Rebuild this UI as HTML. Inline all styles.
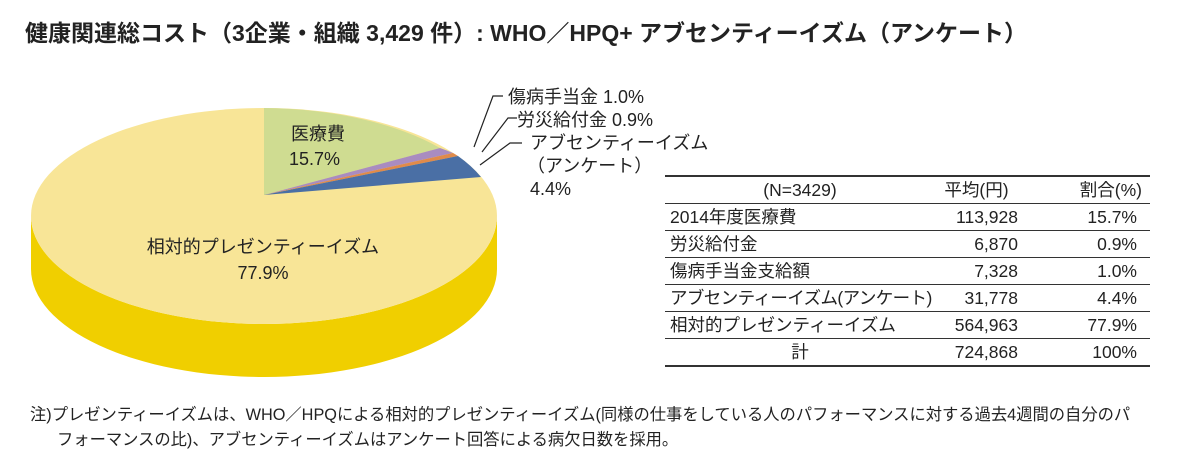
<!DOCTYPE html>
<html><head><meta charset="utf-8"><style>
body{margin:0;width:1183px;height:466px;background:#fff;font-family:"Liberation Sans","Noto Sans CJK JP",sans-serif;color:#222;position:relative;overflow:hidden}
.t{position:absolute;white-space:nowrap}
table{position:absolute;left:665px;top:175px;width:485px;border-collapse:collapse;font-size:17.5px;table-layout:fixed}
td{height:26px;padding:0;border-bottom:1px solid #333;line-height:24px;white-space:nowrap;overflow:visible}
tr:first-child td{border-top:2px solid #333}
tr:last-child td{border-bottom:2px solid #333}
</style></head><body>
<div class="t" style="left:25px;top:14px;font-size:23px;font-weight:bold">健康関連総コスト（3企業・組織 3,429 件）: WHO／HPQ+ アブセンティーイズム（アンケート）</div>
<svg width="1183" height="466" style="position:absolute;left:0;top:0">
<path d="M31,216 A233,108 0 0 0 497,216 L497,269 A233,108 0 0 1 31,269 Z" fill="#f0cf00"/>
<ellipse cx="264" cy="216" rx="233" ry="108" fill="#f8e597"/>
<path d="M264,195 L264,108 A233,108 0 0 1 440,148 Z" fill="#cfdc91"/>
<path d="M264,195 L440,148 A233,108 0 0 1 453,153 Z" fill="#a98cc0"/>
<path d="M264,195 L453,153 A233,108 0 0 1 458,156 Z" fill="#e08a4a"/>
<path d="M264,195 L458,156 A233,108 0 0 1 481,177 Z" fill="#4a6fa5"/>
<g stroke="#222" stroke-width="1.2" fill="none">
<polyline points="474,147 493,96 503,96"/>
<polyline points="482,152 508,118 517,118"/>
<polyline points="480,165 510,143 522,143"/>
</g>
<g font-size="18" fill="#222" font-family="Liberation Sans, Noto Sans CJK JP, sans-serif">
<text x="508" y="103">傷病手当金 1.0%</text>
<text x="517" y="126">労災給付金 0.9%</text>
<text x="530" y="149">アブセンティーイズム</text>
<text x="527" y="172">（アンケート）</text>
<text x="530" y="195">4.4%</text>
<text x="291" y="140">医療費</text>
<text x="289" y="165">15.7%</text>
<text x="263" y="253" text-anchor="middle">相対的プレゼンティーイズム</text>
<text x="263" y="279" text-anchor="middle">77.9%</text>
</g>
</svg>
<table>
<colgroup><col style="width:270px"><col style="width:83px"><col style="width:132px"></colgroup>
<tr><td style="text-align:center">(N=3429)</td><td style="text-align:center">平均(円)</td><td style="text-align:right;padding-right:8px">割合(%)</td></tr>
<tr><td style="padding-left:5px">2014年度医療費</td><td style="text-align:right">113,928</td><td style="text-align:right;padding-right:13px">15.7%</td></tr>
<tr><td style="padding-left:5px">労災給付金</td><td style="text-align:right">6,870</td><td style="text-align:right;padding-right:13px">0.9%</td></tr>
<tr><td style="padding-left:5px">傷病手当金支給額</td><td style="text-align:right">7,328</td><td style="text-align:right;padding-right:13px">1.0%</td></tr>
<tr><td style="padding-left:5px;letter-spacing:-0.6px">アブセンティーイズム(アンケート)</td><td style="text-align:right">31,778</td><td style="text-align:right;padding-right:13px">4.4%</td></tr>
<tr><td style="padding-left:5px">相対的プレゼンティーイズム</td><td style="text-align:right">564,963</td><td style="text-align:right;padding-right:13px">77.9%</td></tr>
<tr><td style="text-align:center">計</td><td style="text-align:right">724,868</td><td style="text-align:right;padding-right:13px">100%</td></tr>
</table>
<div class="t" style="left:30px;top:401px;font-size:16.3px">注)プレゼンティーイズムは、WHO／HPQによる相対的プレゼンティーイズム(同様の仕事をしている人のパフォーマンスに対する過去4週間の自分のパ</div>
<div class="t" style="left:57px;top:426px;font-size:16.3px">フォーマンスの比)、アブセンティーイズムはアンケート回答による病欠日数を採用。</div>
</body></html>
